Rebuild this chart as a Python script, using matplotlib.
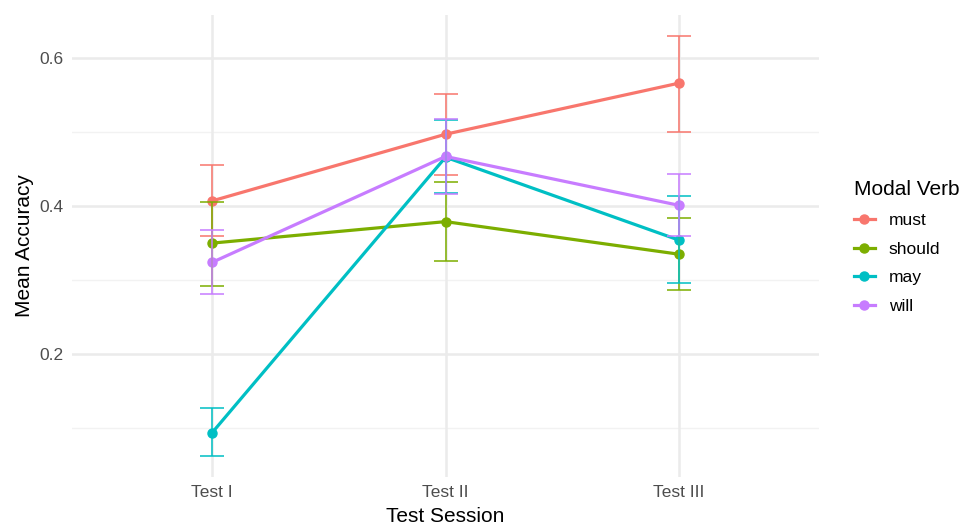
import matplotlib
matplotlib.use('Agg')
import matplotlib.pyplot as plt
from matplotlib.lines import Line2D

plt.rcParams['font.family'] = ['Liberation Sans', 'DejaVu Sans']

# Data
sessions = ['Test I', 'Test II', 'Test III']
verbs = ['must', 'should', 'may', 'will']
colors = ['#F8766D', '#7CAE00', '#00BFC4', '#C77CFF']

must_mean = [0.407, 0.497, 0.566]
must_lo = [0.359, 0.442, 0.500]
must_hi = [0.455, 0.552, 0.630]

should_mean = [0.350, 0.379, 0.335]
should_lo = [0.292, 0.326, 0.287]
should_hi = [0.405, 0.432, 0.384]

may_mean = [0.094, 0.466, 0.354]
may_lo = [0.063, 0.417, 0.296]
may_hi = [0.127, 0.516, 0.414]

will_mean = [0.324, 0.467, 0.401]
will_lo = [0.281, 0.416, 0.359]
will_hi = [0.368, 0.517, 0.443]

series = [
    (must_mean, must_lo, must_hi),
    (should_mean, should_lo, should_hi),
    (may_mean, may_lo, may_hi),
    (will_mean, will_lo, will_hi),
]

fig = plt.figure(figsize=(9.67, 5.28), dpi=100)
ax = fig.add_axes([0.0745, 0.0966, 0.7725, 0.875])

x = list(range(1, len(sessions) + 1))

# gridlines like theme_minimal
for v in [0.1, 0.3, 0.5]:
    ax.axhline(v, color='#F2F2F2', lw=1.0, zorder=0)
for v in [0.2, 0.4, 0.6]:
    ax.axhline(v, color='#EBEBEB', lw=1.8, zorder=0)
for xi in x:
    ax.axvline(xi, color='#EBEBEB', lw=1.8, zorder=0)

for (mean, lo, hi), col in zip(series, colors):
    ax.plot(x, mean, color=col, lw=2.3, marker='o', ms=6.5, zorder=3)
for (mean, lo, hi), col in zip(series, colors):
    err = [[m - l for m, l in zip(mean, lo)], [h - m for m, h in zip(mean, hi)]]
    ax.errorbar(x, mean, yerr=err, fmt='none', ecolor=col, elinewidth=1.3,
                capsize=8.4, capthick=1.3, alpha=0.85, zorder=4)

ax.set_xlim(0.4, 3.6)
ax.set_ylim(0.0342, 0.658)
ax.set_xticks(x)
ax.set_xticklabels(sessions)
ax.set_yticks([0.2, 0.4, 0.6])
ax.set_yticklabels(['0.2', '0.4', '0.6'])
ax.tick_params(length=0, labelsize=12.5, colors='#4D4D4D', pad=6)
for s in ax.spines.values():
    s.set_visible(False)

ax.set_xlabel('Test Session', fontsize=15, color='black', labelpad=5)
ax.set_ylabel('Mean Accuracy', fontsize=15, color='black', labelpad=4)

handles = [Line2D([0], [0], color=c, lw=2.3, marker='o', ms=6.5) for c in colors]
leg = fig.legend(handles, verbs, title='Modal Verb', loc='upper left',
                 bbox_to_anchor=(0.867, 0.688), frameon=False, fontsize=12.5,
                 title_fontsize=15, handlelength=1.2, handletextpad=0.8,
                 labelspacing=0.78)
leg._legend_box.align = 'left'

fig.savefig('out.png', dpi=100)
